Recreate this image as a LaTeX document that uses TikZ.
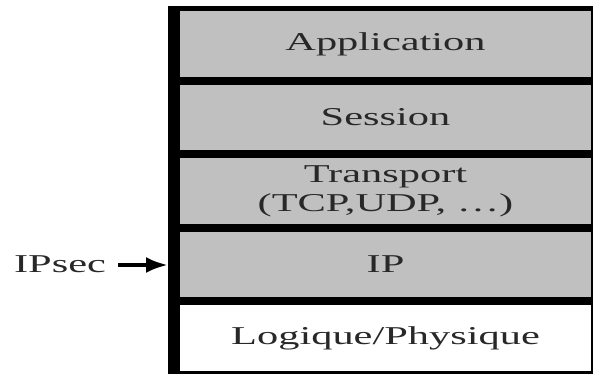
\documentclass[tikz,border=0pt]{standalone}
\usepackage{fontspec}
\usetikzlibrary{arrows.meta}
\newfontfamily\layerfont[FakeStretch=1.65]{Liberation Serif}
\definecolor{layergray}{RGB}{192,192,192}
\definecolor{labelink}{RGB}{40,40,40}
\tikzset{
  layer/.style={draw=none, fill=layergray, minimum width=205.5pt, minimum height=32.5pt,
    inner sep=0pt, align=center, text=labelink,
    font=\layerfont\fontsize{12.85pt}{14.6pt}\selectfont},
  plainlayer/.style={layer, fill=white},
  frame/.style={fill=black, draw=none, inner sep=0pt},
  pointer/.style={draw=black, line width=2pt, -{Latex[length=11pt,width=8pt]}},
  sidelabel/.style={inner sep=0pt, text=labelink,
    font=\layerfont\fontsize{12.85pt}{14.6pt}\selectfont},
}
\begin{document}
\begin{tikzpicture}[x=0.5pt, y=-0.5pt]
  \useasboundingbox (0,0) rectangle (597,374);
  % black frame behind the stack of layers
  \node[frame, minimum width=212.5pt, minimum height=184pt, anchor=north west] (stack) at (168,6) {};
  % protocol layers, top to bottom
  \node[layer] (app) at (385.5,44) {Application};
  \node[layer] (sess) at (385.5,117) {Session};
  \node[layer, minimum height=33pt] (trans) at (385.5,191) {Transport\\(TCP,UDP, \dots)};
  \node[layer] (ip) at (385.5,264.5) {IP};
  \node[plainlayer, minimum height=33pt] (phys) at (385.5,338) {Logique/Physique};
  % IPsec sits at the IP layer
  \node[sidelabel, anchor=base] (ipsec) at (60,272) {IPsec};
  \coordinate (arrowstart) at (118,265);
  \draw[pointer] (arrowstart) -- (arrowstart -| stack.west);
\end{tikzpicture}
\end{document}
